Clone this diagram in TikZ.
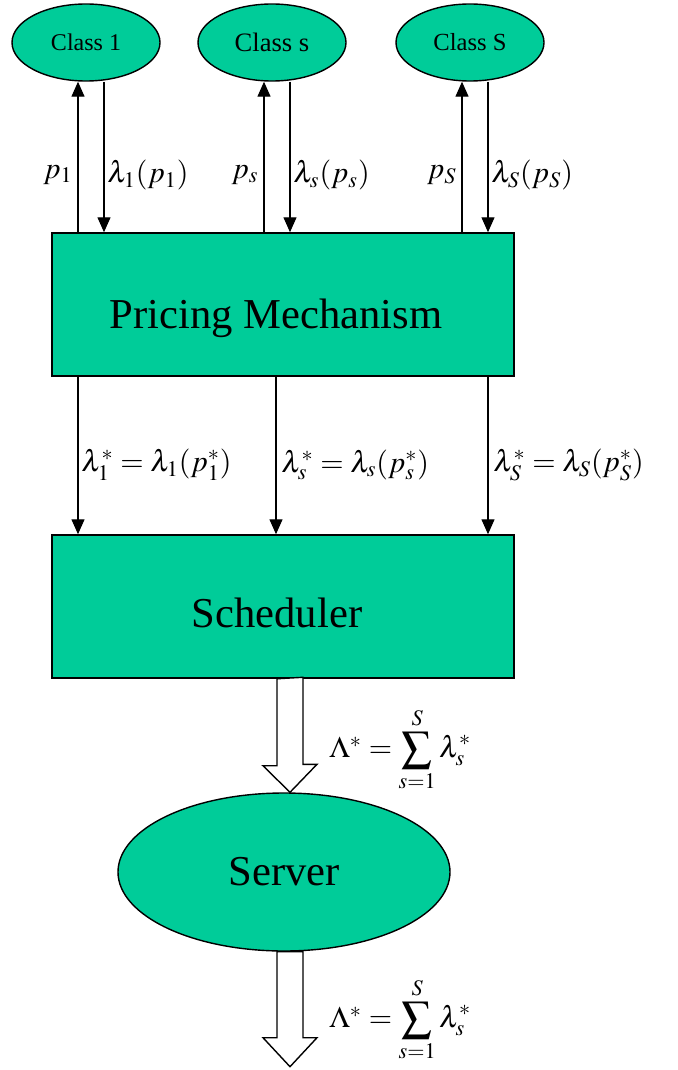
\documentclass[tikz,border=0pt]{standalone}
\usepackage{mathptmx}
\usepackage{fontspec}
\setmainfont{Liberation Serif}
\usepackage{amsmath}
\usetikzlibrary{arrows.meta,shapes.geometric}
\definecolor{tealfill}{HTML}{00CC99}
\tikzset{
  classnode/.style={ellipse,draw,line width=0.7pt,fill=tealfill,minimum width=74pt,minimum height=38.5pt,inner sep=0pt},
  stagebox/.style={rectangle,draw,line width=0.75pt,fill=tealfill,minimum width=231pt,minimum height=71.5pt},
  bigtext/.style={inner sep=0pt,font=\fontsize{21.3}{25}\selectfont},
  arr/.style={-{Triangle[width=6.5pt,length=7.5pt]},line width=0.65pt},
  hollow/.style={draw,line width=0.7pt,fill=white,line join=miter},
  lbl/.style={inner sep=1.5pt,font=\fontsize{15}{18}\selectfont}
}
\begin{document}
\begin{tikzpicture}[x=0.5pt,y=-0.5pt]
\useasboundingbox (0,0) rectangle (678,1070);
% classes
\node[classnode,font=\fontsize{12}{14}\selectfont] (c1) at (86,42.5) {Class 1};
\node[classnode,font=\fontsize{13.3}{15}\selectfont] (cs) at (272,42.5) {Class s};
\node[classnode,font=\fontsize{12.3}{14}\selectfont] (cS) at (470,42.5) {Class S};
% boxes
\node[stagebox] (pm) at (283,304.5) {};
\node[bigtext,anchor=base] (pmtext) at (276,328) {Pricing Mechanism};
\node[stagebox] (sch) at (283,606.5) {};
\node[bigtext,anchor=base] (schtext) at (277,627) {Scheduler};
\node[ellipse,draw,line width=0.7pt,fill=tealfill,minimum width=166pt,minimum height=79pt,font=\fontsize{21.3}{25}\selectfont] (srv) at (284,872) {Server};
% prices up, demand down
\coordinate (u1) at ([xshift=-4pt]c1.south);
\coordinate (w1) at ([xshift=9pt]c1.south);
\coordinate (us) at ([xshift=-4pt]cs.south);
\coordinate (ws) at ([xshift=9pt]cs.south);
\coordinate (uS) at ([xshift=-4pt]cS.south);
\coordinate (wS) at ([xshift=9pt]cS.south);
\draw[arr] (u1 |- pm.north) -- (u1);
\draw[arr] (w1) -- (w1 |- pm.north);
\draw[arr] (us |- pm.north) -- (us);
\draw[arr] (ws) -- (ws |- pm.north);
\draw[arr] (uS |- pm.north) -- (uS);
\draw[arr] (wS) -- (wS |- pm.north);
\node[lbl,left] (p1) at (76,175) {$p_1$};
\node[lbl,right] (l1) at (104,175) {$\lambda_1(p_1)$};
\node[lbl,left] (ps) at (262,175) {$p_s$};
\node[lbl,right] (ls) at (290,175) {$\lambda_s(p_s)$};
\node[lbl,left] (pS) at (460,175) {$p_S$};
\node[lbl,right] (lS) at (488,175) {$\lambda_S(p_S)$};
% optimal rates
\coordinate (d1) at ([xshift=-102.5pt]pm.south);
\coordinate (ds) at ([xshift=-3.5pt]pm.south);
\coordinate (dS) at ([xshift=102.5pt]pm.south);
\draw[arr] (d1) -- (d1 |- sch.north);
\draw[arr] (ds) -- (ds |- sch.north);
\draw[arr] (dS) -- (dS |- sch.north);
\node[lbl,right] (r1) at (78,465) {$\lambda_1^* = \lambda_1(p_1^*)$};
\node[lbl,right] (rs) at (278,465) {$\lambda_s^* = \lambda_s(p_s^*)$};
\node[lbl,right] (rS) at (490,465) {$\lambda_S^* = \lambda_S(p_S^*)$};
% aggregate flow
\coordinate (a1) at (sch.south -| 290,0);
\coordinate (a2) at (srv.south -| 290,0);
\draw[hollow] (a1) ++(-13,0) -- ++(0,87) -- ++(-14,0) -- (srv.north -| a1) -- ++(27,-28) -- ++(-14,0) -- ++(0,-87) -- cycle;
\draw[hollow] (a2) ++(-13,0) -- ++(0,86) -- ++(-14,0) -- ++(27,29) -- ++(27,-29) -- ++(-14,0) -- ++(0,-86) -- cycle;
\node[lbl,right] (L1) at (326,750) {$\Lambda^* = \displaystyle\sum_{s=1}^{S} \lambda_s^*$};
\node[lbl,right] (L2) at (326,1020) {$\Lambda^* = \displaystyle\sum_{s=1}^{S} \lambda_s^*$};
\end{tikzpicture}
\end{document}
